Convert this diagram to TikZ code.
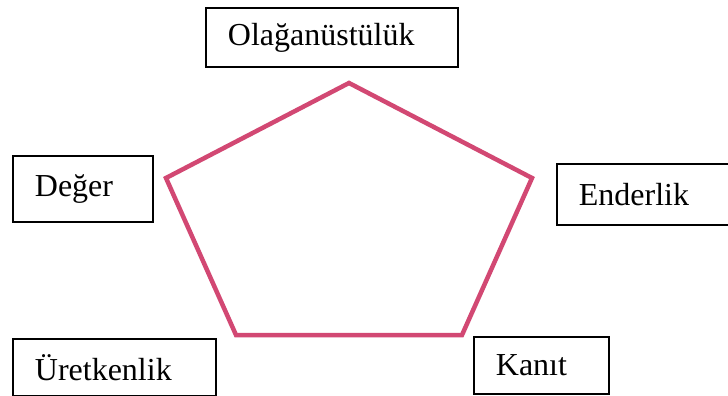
\documentclass[tikz,border=0pt]{standalone}
\usepackage{fontspec}
\setmainfont{Liberation Serif}
\definecolor{pentapink}{RGB}{210,72,115}
\tikzset{
	labelbox/.style={draw, rectangle, line width=1.8pt, align=left, inner xsep=22pt, inner ysep=0pt, anchor=north west, font=\fontsize{32}{38}\selectfont},
}
\begin{document}
\begin{tikzpicture}[x=1pt,y=-1pt]
		\useasboundingbox (0,0) rectangle (728,396);
		\node[labelbox, text width=208pt, minimum height=59pt] (olagan) at (205,7) {Olağanüstülük};
		\node[labelbox, text width=96pt, minimum height=66pt] (deger) at (12,155) {Değer};
		\node[labelbox, text width=132pt, minimum height=61pt] (ender) at (556,163) {Enderlik};
		\node[labelbox, text width=159pt, minimum height=57pt] (uretken) at (12,338) {Üretkenlik};
		\node[labelbox, text width=91pt, minimum height=57pt] (kanit) at (473,336) {Kanıt};
		\coordinate (top) at (349,83);
		\coordinate (right) at (532,178);
		\coordinate (botr) at (462,335);
		\coordinate (botl) at (236,335);
		\coordinate (left) at (166,178);
		\draw[pentapink, line width=4.5pt, line join=miter] (top) -- (right) -- (botr) -- (botl) -- (left) -- cycle;
		\end{tikzpicture}
\end{document}
